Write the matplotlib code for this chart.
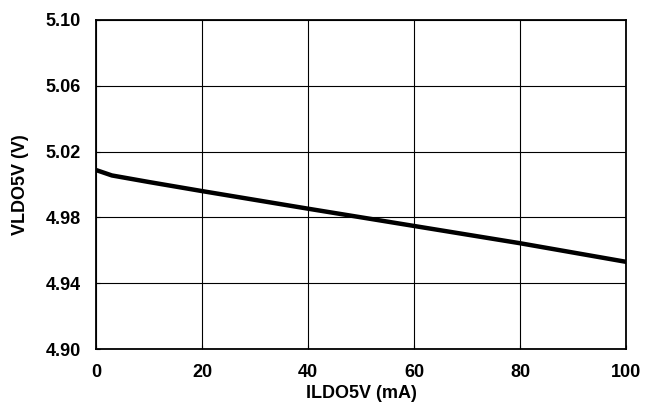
import matplotlib
matplotlib.use("Agg")
import matplotlib.pyplot as plt

plt.rcParams['font.family'] = ['Liberation Sans', 'DejaVu Sans']
plt.rcParams['font.weight'] = 'bold'

# load current (mA) vs. LDO output voltage (V)
i_load = [0, 3, 10, 20, 40, 60, 80, 100]
v_out = [5.0088, 5.0055, 5.0015, 4.9960, 4.9853, 4.9748, 4.9643, 4.9530]

x_ticks = [0, 20, 40, 60, 80, 100]
y_ticks = [4.90, 4.94, 4.98, 5.02, 5.06, 5.10]

fig = plt.figure(figsize=(6.54, 4.05), dpi=100)
ax = fig.add_axes([96 / 654, 1 - 349 / 405, 530 / 654, 329 / 405])

ax.plot(i_load, v_out, color='black', linewidth=3.2, solid_capstyle='round', zorder=3)

ax.set_xlim(0, 100)
ax.set_ylim(4.90, 5.10)
ax.set_xticks(x_ticks)
ax.set_yticks(y_ticks)
ax.set_yticklabels(['%.2f' % v for v in y_ticks])
ax.grid(True, color='black', linewidth=0.8)
ax.tick_params(length=3, direction='in', labelsize=13, pad=11)
for s in ax.spines.values():
    s.set_linewidth(1.3)

ax.set_xlabel('ILDO5V (mA)', fontsize=13, fontweight='bold', labelpad=3)
ax.set_ylabel('VLDO5V (V)', fontsize=13, fontweight='bold', labelpad=12)

fig.savefig('out.png', dpi=100)
